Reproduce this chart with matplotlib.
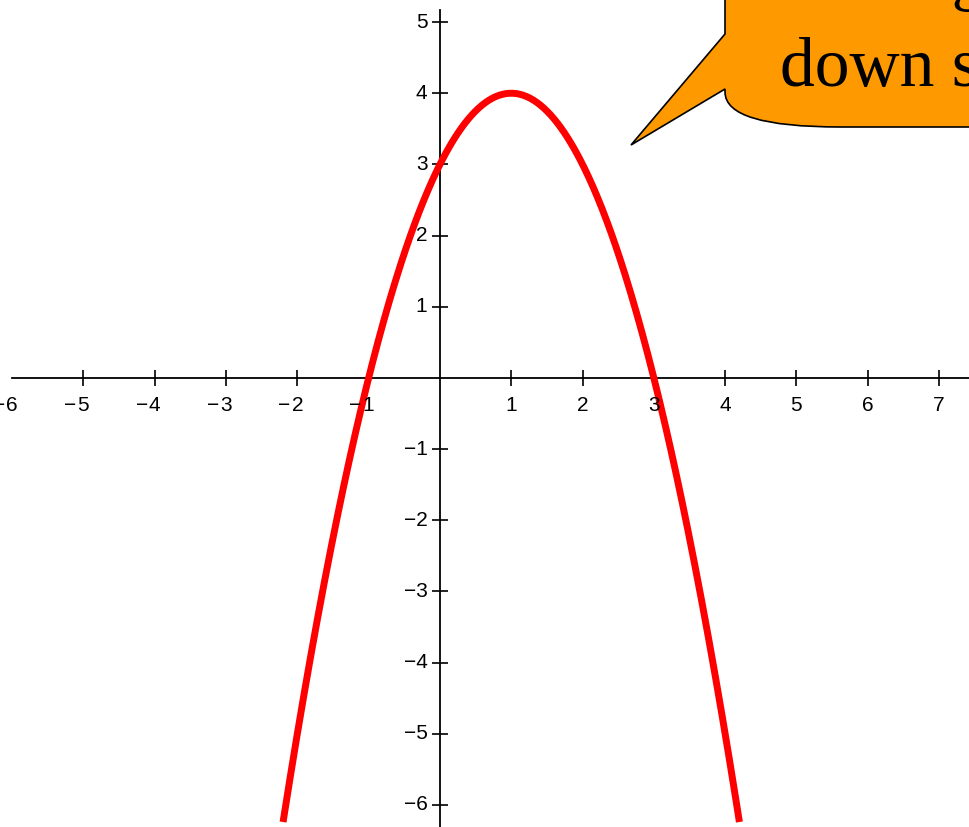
import numpy as np
import matplotlib.pyplot as plt
from matplotlib.path import Path
from matplotlib.patches import PathPatch

# parabola: vertex (1, 4), roots -1 and 3
vertex = (1.0, 4.0)
x_start, x_end = -2.2, 4.2
x_ticks = [-5, -4, -3, -2, -1, 1, 2, 3, 4, 5, 6, 7]
y_ticks = [-6, -5, -4, -3, -2, -1, 1, 2, 3, 4, 5]
callout_lines = ["Facing", "down since a < 0"]

W, H = 969, 827


def px(x, y):
    # pixel coords (y down) -> figure fraction
    return (x / W, 1 - y / H)


def main():
    fig = plt.figure(figsize=(W / 100, H / 100), dpi=100)
    ax = fig.add_axes([0, 0, 1, 1])
    ax.set_xlim(-6.17, 7.42)
    ax.set_ylim(-6.31, 5.31)

    xs = np.linspace(x_start, x_end, 400)
    ys = -(xs - vertex[0]) ** 2 + vertex[1]
    ax.plot(xs, ys, color='#ff0000', lw=5.0, solid_capstyle='butt', zorder=3)

    for s in ['top', 'right']:
        ax.spines[s].set_visible(False)
    ax.spines['bottom'].set_position(('data', 0))
    ax.spines['left'].set_position(('data', 0))
    ax.spines['bottom'].set_bounds(-6, 7.42)
    ax.spines['left'].set_bounds(-6.31, 5.17)
    for s in ['bottom', 'left']:
        ax.spines[s].set_linewidth(1.3)

    ax.set_xticks(x_ticks)
    ax.set_yticks(y_ticks)
    ax.tick_params(direction='inout', length=12, width=1.2, labelbottom=False,
                   labelleft=False, colors='black')

    lab_kw = dict(fontsize=15, family='Liberation Sans', textcoords='offset points')
    # x labels: digit centred under the tick, minus sign hanging to the left
    for t in x_ticks + [-6]:
        s = str(abs(t))
        ax.annotate(s, (t, 0), xytext=(0, -20), ha='center', va='center', **lab_kw)
        if t < 0:
            ax.annotate("\u2212", (t, 0), xytext=(-5, -20), ha='right', va='center', **lab_kw)
    for t in y_ticks:
        lbl = f"\u2212{-t}" if t < 0 else str(t)
        ax.annotate(lbl, (0, t), xytext=(-9, 0), ha='right', va='center', **lab_kw)

    # speech bubble in the upper right corner
    verts = [px(725, -10), px(725, 34), px(631, 145), px(725, 89), px(725, 92),
             px(725, 127), px(840, 127), px(980, 127), px(980, -10), px(725, -10)]
    codes = [Path.MOVETO, Path.LINETO, Path.LINETO, Path.LINETO, Path.LINETO,
             Path.CURVE3, Path.CURVE3, Path.LINETO, Path.LINETO, Path.CLOSEPOLY]
    bubble = PathPatch(Path(verts, codes), facecolor='#ff9900', edgecolor='black',
                       lw=1.2, transform=fig.transFigure, zorder=5)
    fig.patches.append(bubble)

    fig.text(*px(780, 86), callout_lines[1], fontsize=50, family='Liberation Serif',
             ha='left', va='baseline', zorder=6)
    fig.text(*px(798, -3), callout_lines[0], fontsize=50, family='Liberation Serif',
             ha='left', va='baseline', zorder=6)

    fig.savefig('out.png', dpi=100, facecolor='white')


if __name__ == "__main__":
    main()
